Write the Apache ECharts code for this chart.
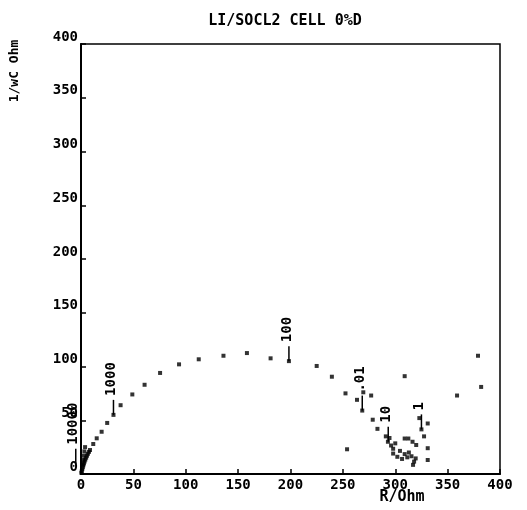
<!DOCTYPE html>
<html>
<head>
<meta charset="utf-8">
<title>LI/SOCL2 CELL 0%D</title>
<script src="https://cdn.jsdelivr.net/npm/echarts@6/dist/echarts.min.js"></script>
<style>
  body { margin: 0; background: #fff; }
  #main { width: 527px; height: 510px; }
</style>
</head>
<body>
<div id="main"></div>
<script>
// impedance points (R in Ohm, 1/wC in Ohm)
var rOhm = [
  0.3, 0.8, 1.2, 1.7, 2.2, 2.8, 3.4, 4.1, 4.9, 5.7, 6.6, 7.6, 8.6,
  1.4, 2.0, 2.6, 3.2, 3.9,
  11.7, 15, 19.7, 25, 31, 37.8, 49, 60.7, 75.5, 93.6, 112.4, 136, 158.4, 181, 198.5,
  225, 239.5, 252.5, 263.5, 269.5, 277, 268.5, 278.5, 283, 254, 309,
  291, 293, 294.5, 296, 298, 300, 298, 302, 304.5, 306.5, 309, 311.5, 313, 315.5,
  318, 317, 319.5, 309, 312.5, 320, 323, 325, 327.5, 331, 331, 331, 316.5,
  359, 379, 382
];
var xOhm = [
  1.2, 2.8, 4.5, 6.3, 8, 9.8, 11.6, 13.4, 15.2, 17, 18.8, 20.6, 22.3,
  9, 13, 17, 21, 25,
  27.9, 33.2, 39.3, 47.5, 55, 64, 74, 83, 94, 102, 106.7, 110, 112.5, 107.6, 105,
  100.5, 90.5, 75, 69, 76, 73, 59, 50.5, 42, 23, 91,
  35, 30, 33.5, 26.5, 23.5, 28.5, 19, 16, 21.5, 14, 18.5, 15.5, 20, 16.5,
  11.5, 8.5, 14.5, 33, 33, 27, 52, 41.5, 35, 47, 24, 13, 30,
  73, 110, 81
];

// frequency marks (foot of the leader line)
var freqText = ['10000', '1000', '100', '.01', '10', '1'];
var freqR = [-5, 31, 198.5, 268.5, 293.3, 325];
var freqX = [9.5, 55, 105, 59, 30, 41.5];

var xTicks = [0, 50, 100, 150, 200, 250, 300, 350, 400];
var yTicks = [0, 50, 100, 150, 200, 250, 300, 350, 400];

var pts = rOhm.map(function (r, i) { return [r, xOhm[i]]; });
var marks = freqR.map(function (r, i) { return [r, freqX[i]]; });

var FONT = '"DejaVu Sans Mono", monospace';

var chartDom = document.getElementById('main');
var myChart = echarts.init(chartDom);

myChart.setOption({
  animation: false,
  backgroundColor: '#fff',
  grid: {
    left: 81, right: 27, top: 44, bottom: 36,
    show: true, borderColor: '#000', borderWidth: 1.5
  },
  xAxis: {
    type: 'value',
    min: xTicks[0], max: xTicks[xTicks.length - 1], interval: 50,
    axisLine: { show: true, lineStyle: { color: '#000', width: 2 } },
    axisTick: { show: true, inside: true, length: 5, lineStyle: { color: '#000', width: 1.5 } },
    splitLine: { show: false },
    axisLabel: { color: '#000', fontFamily: FONT, fontWeight: 'bold', fontSize: 14, margin: 4 }
  },
  yAxis: {
    type: 'value',
    min: yTicks[0], max: yTicks[yTicks.length - 1], interval: 50,
    axisLine: { show: true, lineStyle: { color: '#000', width: 2 } },
    axisTick: { show: true, inside: true, length: 5, lineStyle: { color: '#000', width: 1.5 } },
    splitLine: { show: false },
    axisLabel: { color: '#000', fontFamily: FONT, fontWeight: 'bold', fontSize: 14, margin: 3, verticalAlign: 'bottom' }
  },
  graphic: [
    { type: 'text', x: 285, y: 21, style: { text: 'LI/SOCL2 CELL 0%D', font: 'bold 15px ' + FONT, fill: '#000', textAlign: 'center', textVerticalAlign: 'middle' } },
    { type: 'text', x: 402, y: 497, style: { text: 'R/Ohm', font: 'bold 15px ' + FONT, fill: '#000', textAlign: 'center', textVerticalAlign: 'middle' } },
    { type: 'text', x: 15, y: 71, rotation: Math.PI / 2, style: { text: '1/wC Ohm', font: 'bold 13px ' + FONT, fill: '#000', textAlign: 'center', textVerticalAlign: 'middle' } }
  ],
  series: [
    {
      type: 'scatter',
      data: pts,
      symbol: 'rect',
      symbolSize: 4,
      itemStyle: { color: '#000' }
    },
    {
      type: 'custom',
      data: marks,
      clip: false,
      renderItem: function (params, api) {
        var p = api.coord([api.value(0), api.value(1)]);
        return {
          type: 'group',
          children: [
            { type: 'line', shape: { x1: p[0], y1: p[1], x2: p[0], y2: p[1] - 15 }, style: { stroke: '#000', lineWidth: 1.5 } },
            { type: 'text', x: p[0] - 2, y: p[1] - 19, rotation: Math.PI / 2,
              style: { text: freqText[params.dataIndex], font: 'bold 14px ' + FONT, fill: '#000', textAlign: 'left', textVerticalAlign: 'middle' } }
          ]
        };
      }
    }
  ]
});
</script>
</body>
</html>
